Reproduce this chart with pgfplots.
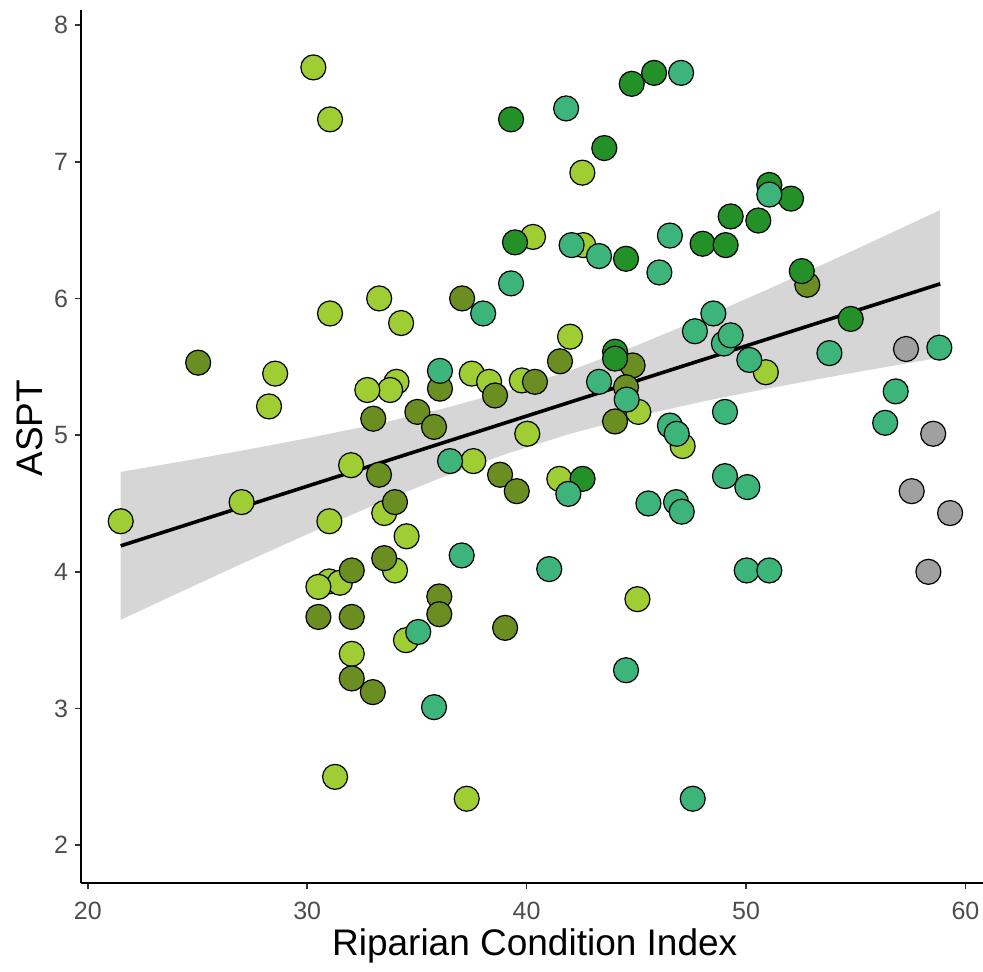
\documentclass[border=0pt]{standalone}
\usepackage{pgfplots}
\pgfplotsset{compat=1.18}
\usepackage{fontspec}
\setmainfont{Liberation Sans}

\definecolor{cYG}{RGB}{158,205,52}
\definecolor{cOL}{RGB}{107,142,35}
\definecolor{cFG}{RGB}{36,145,40}
\definecolor{cMS}{RGB}{60,180,122}
\definecolor{cGR}{RGB}{160,160,160}
\definecolor{bandgray}{RGB}{214,214,214}
\definecolor{ticktext}{RGB}{77,77,77}

% points, one table per colour group
\pgfplotstableread{
x y
31.00 3.93
30.28 7.69
31.04 7.31
40.29 6.45
31.04 5.89
33.28 6.00
34.28 5.82
28.54 5.45
28.26 5.21
41.98 5.72
34.07 5.39
33.78 5.33
32.74 5.33
37.50 5.45
38.29 5.39
39.78 5.40
40.03 5.01
32.00 4.78
37.57 4.81
41.49 4.68
31.01 4.37
33.51 4.43
34.53 4.26
34.00 4.01
21.50 4.37
27.01 4.51
31.49 3.92
30.51 3.89
34.50 3.50
32.03 3.40
31.27 2.50
37.27 2.34
42.54 6.92
42.58 6.39
50.90 5.46
45.09 5.17
47.11 4.92
45.05 3.80
}\ygpts
\pgfplotstableread{
x y
25.03 5.53
37.06 6.00
41.52 5.54
36.05 5.34
40.38 5.39
38.56 5.29
33.01 5.12
35.02 5.17
35.78 5.06
33.27 4.71
38.79 4.71
39.55 4.59
34.00 4.51
33.51 4.10
32.03 4.01
36.02 3.82
36.02 3.69
30.51 3.67
32.03 3.67
39.02 3.59
32.03 3.22
32.99 3.12
52.79 6.10
44.83 5.51
44.53 5.35
44.03 5.10
}\olpts
\pgfplotstableread{
x y
39.29 7.31
39.47 6.41
44.79 7.57
45.81 7.65
43.54 7.10
51.06 6.83
52.05 6.73
49.30 6.60
50.56 6.57
48.02 6.40
49.07 6.39
44.53 6.29
52.54 6.20
54.77 5.85
44.03 5.61
44.03 5.56
42.55 4.68
}\fgpts
\pgfplotstableread{
x y
39.29 6.11
38.02 5.89
36.05 5.47
36.51 4.81
41.90 4.57
37.04 4.12
41.03 4.02
35.06 3.56
35.78 3.01
47.04 7.65
41.80 7.39
51.06 6.76
46.53 6.46
42.05 6.39
43.30 6.31
46.05 6.19
48.51 5.89
47.67 5.76
48.99 5.67
49.30 5.73
50.15 5.55
53.80 5.60
58.81 5.64
56.82 5.32
56.34 5.09
43.30 5.39
44.56 5.26
46.53 5.07
46.84 5.01
49.04 5.17
45.55 4.50
46.81 4.51
47.07 4.44
49.04 4.70
50.06 4.62
50.03 4.01
51.06 4.01
44.53 3.28
47.57 2.34
}\mspts
\pgfplotstableread{
x y
57.29 5.63
58.53 5.01
57.55 4.59
59.30 4.43
58.31 4.00
}\grpts

\begin{document}
\begin{tikzpicture}
\useasboundingbox (0,0) rectangle (491.5pt,485.5pt);
\begin{axis}[
    at={(40.5pt,44pt)}, anchor=south west,
    scale only axis,
    width=451pt, height=436.5pt,
    xmin=19.69, xmax=60.8,
    ymin=1.7235, ymax=8.11,
    axis x line=bottom, axis y line=left,
    axis line style={-, line width=0.8pt, black},
    xtick={20,30,40,50,60},
    ytick={2,3,4,5,6,7,8},
    tick align=outside,
    major tick length=3pt,
    tick style={line width=0.8pt, black!80},
    ticklabel style={font=\fontsize{12.5}{14}\selectfont, text=ticktext},
    xticklabel style={yshift=-3pt},
    /pgf/number format/assume math mode=true,
    xlabel={Riparian Condition Index},
    ylabel={ASPT},
    label style={font=\fontsize{18.5}{22}\selectfont},
    xlabel style={at={(axis description cs:0.503,0)}, anchor=center, yshift=-31.5pt},
    ylabel style={at={(axis description cs:-0.0571,0.521)}, anchor=center},
    clip=false,
]
% confidence band
\addplot[fill=bandgray, draw=none] coordinates {
    (21.5,4.731) (24,4.800) (27,4.886) (30,4.977) (33,5.075) (36,5.186)
    (39,5.317) (42,5.473) (45,5.655) (48,5.855) (51,6.067) (54,6.285)
    (57,6.508) (58.85,6.647)
    (58.85,5.567) (57,5.516) (54,5.431) (51,5.341) (48,5.245) (45,5.137)
    (42,5.011) (39,4.859) (36,4.682) (33,4.485) (30,4.275) (27,4.058)
    (24,3.836) (21.5,3.649)
} -- cycle;
% fitted line
\addplot[black, line width=1.8pt] coordinates {(21.5,4.19) (58.85,6.107)};
% points
\addplot[only marks, mark=*, mark size=6.25pt, mark options={fill=cYG, draw=black, line width=0.6pt}] table {\ygpts};
\addplot[only marks, mark=*, mark size=6.25pt, mark options={fill=cOL, draw=black, line width=0.6pt}] table {\olpts};
\addplot[only marks, mark=*, mark size=6.25pt, mark options={fill=cFG, draw=black, line width=0.6pt}] table {\fgpts};
\addplot[only marks, mark=*, mark size=6.25pt, mark options={fill=cMS, draw=black, line width=0.6pt}] table {\mspts};
\addplot[only marks, mark=*, mark size=6.25pt, mark options={fill=cGR, draw=black, line width=0.6pt}] table {\grpts};
\end{axis}
\end{tikzpicture}
\end{document}
